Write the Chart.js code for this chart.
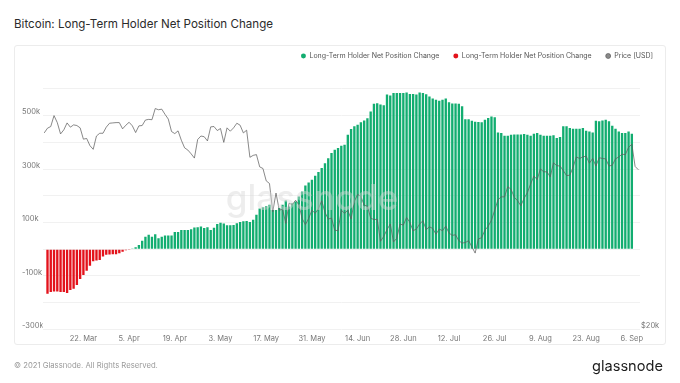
<!DOCTYPE html>
<html>
<head>
<meta charset="utf-8">
<script src="https://cdn.jsdelivr.net/npm/chart.js@4"></script>
<style>
  html, body { margin: 0; padding: 0; background: #fff; }
  body { width: 680px; height: 383px; position: relative; overflow: hidden; font-family: Inter, "Noto Sans", sans-serif; }
  #title { position: absolute; left: 14px; top: 17px; font-size: 11.6px; color: #2b2b2b; white-space: nowrap; }
  #card { position: absolute; left: 14px; top: 45px; width: 652px; height: 300px; border: 1px solid #ececec; border-radius: 3px; box-sizing: border-box; }
  #footer { position: absolute; left: 14px; top: 361px; font-size: 7.7px; color: #9a9a9a; white-space: nowrap; }
  #logo { position: absolute; left: 592px; top: 357px; font-size: 14.6px; color: #1c1c1c; white-space: nowrap; }
  #c { position: absolute; left: 0; top: 0; }
</style>
</head>
<body>
<div id="title">Bitcoin: Long-Term Holder Net Position Change</div>
<div id="card"></div>
<canvas id="c" width="680" height="383"></canvas>
<div id="footer">© 2021 Glassnode. All Rights Reserved.</div>
<div id="logo">glassnode</div>
<script>
// ---- data ----
const startDate = '2021-03-10';   // first category (daily), last = 2021-09-08
const monthNames = ['Jan','Feb','Mar','Apr','May','Jun','Jul','Aug','Sep','Oct','Nov','Dec'];
const tickLabels = ['22. Mar','5. Apr','19. Apr','3. May','17. May','31. May','14. Jun','28. Jun','12. Jul','26. Jul','9. Aug','23. Aug','6. Sep'];

// Long-Term Holder Net Position Change (thousand BTC), daily Mar 10 – Sep 8
const lthChange = [
  null,
  -167,-160,-158,-158,-160,-160,-164,-153,-148,-134,-112,-97,-81,-62,-45,-42,-40,-27,-21,-20,-19,-19,-15,-10,-4,-1,1,
  7,16,32,47,54,47,56,41,47,51,51,51,64,64,72,72,72,75,81,
  82,85,79,82,72,80,94,99,96,90,90,91,97,102,105,106,102,110,129,152,
  157,161,166,147,147,154,166,182,160,172,179,197,216,239,250,260,275,289,304,322,
  341,360,372,379,387,391,429,450,
  460,466,475,482,490,516,545,547,542,539,
  579,576,585,585,585,585,587,581,581,579,
  587,585,580,572,564,560,556,560,564,550,
  546,546,545,535,487,487,481,477,476,475,
  485,491,497,494,437,435,425,425,429,430,
  430,430,431,429,425,432,435,429,425,425,
  425,427,416,420,460,460,454,451,451,451,
  454,444,441,437,481,479,482,485,479,462,
  451,441,435,435,441,432,
  null, null
];

// BTC price (thousand USD), daily Mar 10 – Sep 8
const priceUsd = [
  55.9,57.3,57.8,61.2,59.0,55.6,56.8,58.9,57.6,58.3,58.1,57.4,54.1,54.3,52.3,51.3,55.0,55.8,55.8,57.6,58.8,58.9,
  59.0,59.0,57.1,58.2,59.1,58.0,56.0,58.0,58.1,59.8,60.0,59.9,63.5,63.1,63.3,61.6,60.1,56.3,55.7,56.5,53.8,51.7,51.1,50.1,49.0,54.0,55.0,54.8,53.6,57.7,
  57.8,56.6,57.2,53.2,57.4,56.4,57.4,58.8,58.2,55.9,56.7,49.2,49.7,49.9,46.8,46.4,43.5,42.9,37.0,40.8,37.3,37.5,34.8,38.7,38.4,39.3,38.4,35.7,34.6,35.7,37.3,
  36.7,37.6,39.2,36.9,35.6,35.8,33.6,33.5,37.3,36.7,37.3,35.6,39.1,40.5,40.1,38.3,38.1,35.8,35.5,35.6,31.7,32.5,33.7,34.7,31.6,32.2,34.7,34.5,35.9,35.0,
  33.5,33.8,34.7,35.3,33.7,34.2,33.9,32.9,33.8,33.5,34.3,33.1,32.7,32.8,31.8,31.4,31.5,31.8,30.8,29.8,32.1,32.3,33.6,34.3,35.4,37.3,39.4,40.0,40.0,42.2,41.6,
  39.9,39.2,38.2,39.7,40.9,42.8,44.6,43.8,46.3,45.6,45.6,44.4,47.8,47.1,47.0,45.9,44.7,44.8,46.7,49.3,48.9,49.3,49.5,47.7,48.9,47.0,49.1,48.9,48.8,47.0,47.2,
  48.8,49.3,50.0,49.9,51.8,52.7,46.9,46.1
];

// ---- categories ----
const categories = [];
{
  const d0 = new Date(startDate + 'T00:00:00Z');
  for (let i = 0; i < priceUsd.length; i++) {
    const d = new Date(d0.getTime() + i * 86400000);
    categories.push(d.getUTCDate() + '. ' + monthNames[d.getUTCMonth()]);
  }
}
const posVals = lthChange.map(v => (v !== null && v >= 0) ? v * 1000 : null);
const negVals = lthChange.map(v => (v !== null && v < 0) ? v * 1000 : null);
const priceVals = priceUsd.map(v => v * 1000);

const GREEN = '#12ad70';
const RED = '#e3121b';
const GREY = '#8a8a8a';

const watermark = {
  id: 'watermark',
  afterDatasetsDraw(chart) {
    const ctx = chart.ctx;
    ctx.save();
    ctx.font = '500 35px Inter, sans-serif';
    ctx.fillStyle = 'rgba(215,215,215,0.45)';
    ctx.textAlign = 'center';
    ctx.textBaseline = 'middle';
    ctx.fillText('glassnode', 312, 199);
    ctx.restore();
  }
};

const tickFont = { family: 'Inter, sans-serif', size: 7.5 };

new Chart(document.getElementById('c'), {
  type: 'bar',
  data: {
    labels: categories,
    datasets: [
      { label: 'Long-Term Holder Net Position Change', data: posVals, backgroundColor: GREEN, borderWidth: 0,
        grouped: false, categoryPercentage: 1, barPercentage: 0.72, yAxisID: 'y', order: 1 },
      { label: 'Long-Term Holder Net Position Change', data: negVals, backgroundColor: RED, borderWidth: 0,
        grouped: false, categoryPercentage: 1, barPercentage: 0.72, yAxisID: 'y', order: 1 },
      { type: 'line', label: 'Price [USD]', data: priceVals, borderColor: 'rgba(90,90,90,0.8)', backgroundColor: GREY,
        borderWidth: 0.9, pointRadius: 0, tension: 0, yAxisID: 'y1', order: 0, spanGaps: true }
    ]
  },
  options: {
    responsive: false,
    animation: false,
    devicePixelRatio: 1,
    layout: { padding: { left: 22, right: 13, top: 38.5, bottom: 37 } },
    plugins: {
      legend: {
        position: 'top', align: 'end',
        labels: {
          usePointStyle: true, pointStyle: 'circle', boxWidth: 5, boxHeight: 3.5,
          padding: 14, color: '#555', font: { family: 'Inter, sans-serif', size: 7 },
          sort: (a, b) => a.datasetIndex - b.datasetIndex
        }
      },
      tooltip: { enabled: false }
    },
    scales: {
      x: {
        type: 'category',
        offset: true,
        grid: { display: false, drawTicks: false },
        border: { display: false },
        ticks: {
          autoSkip: false, maxRotation: 0, minRotation: 0, padding: 5,
          color: '#777', font: tickFont,
          callback: function (value) { return this.getLabelForValue(value); }
        },
        afterBuildTicks: (scale) => {
          scale.ticks = categories.map((c, i) => ({ value: i, c })).filter(t => tickLabels.includes(t.c)).map(t => ({ value: t.value }));
        },
        afterFit: (scale) => { scale.height = 16.7; }
      },
      y: {
        type: 'linear', position: 'left',
        min: -300000, max: 673000,
        grid: { color: '#f1f1f1', lineWidth: 1, drawTicks: false },
        border: { display: false },
        ticks: {
          crossAlign: 'far', padding: 0, labelOffset: -3.5,
          color: '#777', font: tickFont,
          callback: (v) => (Math.round(v / 100000) % 2 !== 0) ? (v / 1000) + 'k' : ''
        },
        afterBuildTicks: (scale) => {
          const t = [];
          for (let v = -300000; v <= 600000; v += 100000) t.push({ value: v });
          scale.ticks = t;
        },
        afterFit: (scale) => { scale.width = 20.6; }
      },
      y1: {
        type: 'logarithmic', position: 'right',
        min: 20000, max: 77900,
        grid: { display: false, drawTicks: false },
        border: { display: false },
        ticks: {
          padding: 1, labelOffset: -3.5, color: '#777', font: tickFont,
          callback: (v) => '$' + (v / 1000) + 'k'
        },
        afterBuildTicks: (scale) => { scale.ticks = [{ value: 20000 }]; },
        afterFit: (scale) => { scale.width = 27; }
      }
    }
  },
  plugins: [watermark]
});
</script>
</body>
</html>
